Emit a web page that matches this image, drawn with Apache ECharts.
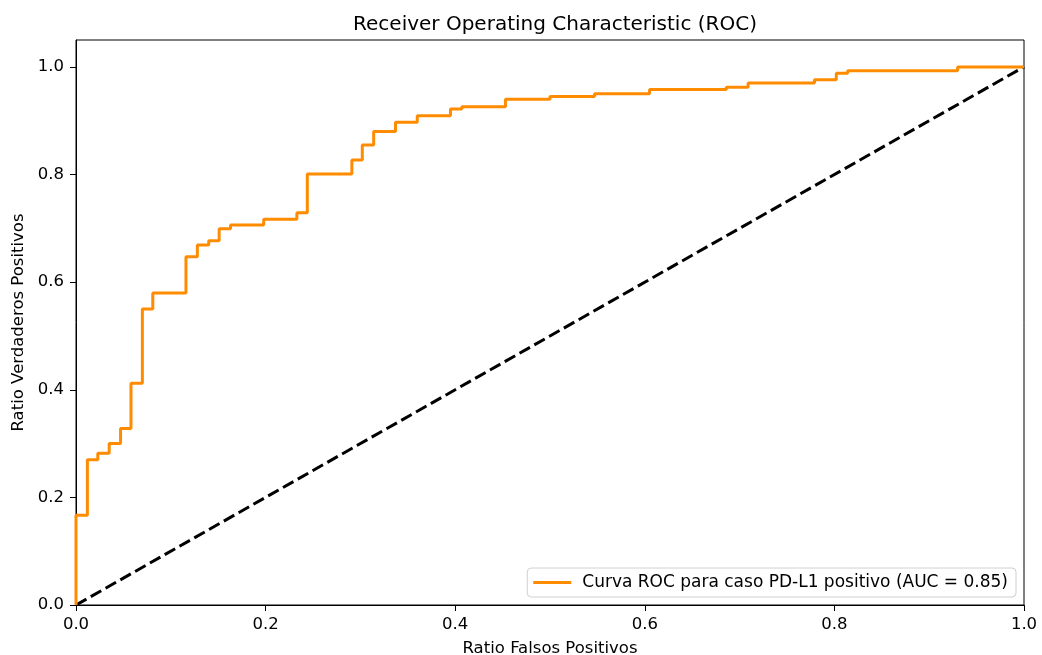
<!DOCTYPE html>
<html>
<head>
<meta charset="utf-8">
<script src="https://cdn.jsdelivr.net/npm/echarts@6/dist/echarts.min.js"></script>
<style>
  html, body { margin: 0; padding: 0; background: #fff; }
  #chart { width: 1042px; height: 655px; }
</style>
</head>
<body>
<div id="chart"></div>
<script>
// ROC curve corner points (false positive rate, true positive rate)
const fpr = [0, 0, 0.012, 0.012, 0.023, 0.023, 0.035, 0.035, 0.047, 0.047,
  0.058, 0.058, 0.070, 0.070, 0.081, 0.081, 0.116, 0.116, 0.128, 0.128,
  0.140, 0.140, 0.151, 0.151, 0.163, 0.163, 0.198, 0.198, 0.233, 0.233,
  0.244, 0.244, 0.291, 0.291, 0.302, 0.302, 0.314, 0.314, 0.337, 0.337,
  0.360, 0.360, 0.395, 0.395, 0.407, 0.407, 0.453, 0.453, 0.500, 0.500,
  0.547, 0.547, 0.605, 0.605, 0.686, 0.686, 0.709, 0.709, 0.779, 0.779,
  0.802, 0.802, 0.814, 0.814, 0.930, 0.930, 1.0];
const tpr = [0, 0.167, 0.167, 0.270, 0.270, 0.282, 0.282, 0.300, 0.300, 0.328,
  0.328, 0.412, 0.412, 0.550, 0.550, 0.580, 0.580, 0.647, 0.647, 0.669,
  0.669, 0.677, 0.677, 0.699, 0.699, 0.706, 0.706, 0.717, 0.717, 0.729,
  0.729, 0.801, 0.801, 0.827, 0.827, 0.855, 0.855, 0.880, 0.880, 0.897,
  0.897, 0.909, 0.909, 0.922, 0.922, 0.926, 0.926, 0.940, 0.940, 0.945,
  0.945, 0.950, 0.950, 0.958, 0.958, 0.962, 0.962, 0.970, 0.970, 0.976,
  0.976, 0.988, 0.988, 0.993, 0.993, 1.0, 1.0];

// Chance diagonal
const chanceX = [0, 1];
const chanceY = [0, 1];

const xTicks = [0, 0.2, 0.4, 0.6, 0.8, 1.0];
const yTicks = [0, 0.2, 0.4, 0.6, 0.8, 1.0];

const titleText = 'Receiver Operating Characteristic (ROC)';
const xName = 'Ratio Falsos Positivos';
const yName = 'Ratio Verdaderos Positivos';
const rocName = 'Curva ROC para caso PD-L1 positivo (AUC = 0.85)';

const FONT = 'DejaVu Sans';
const LABEL_SIZE = 16.5;

const rocData = fpr.map((x, i) => [x, tpr[i]]);
const chanceData = chanceX.map((x, i) => [x, chanceY[i]]);

const chart = echarts.init(document.getElementById('chart'), null, { renderer: 'canvas' });

function tickFormatter(ticks) {
  return v => (ticks.some(t => Math.abs(t - v) < 1e-9) ? v.toFixed(1) : '');
}

const axisCommon = {
  type: 'value',
  interval: 0.2,
  axisLine: { show: true, onZero: false, lineStyle: { color: '#000', width: 1 } },
  axisTick: { show: true, inside: false, length: 6, lineStyle: { color: '#000', width: 1 } },
  splitLine: { show: false },
  nameLocation: 'middle',
  nameTextStyle: { color: '#000', fontFamily: FONT, fontSize: LABEL_SIZE }
};

chart.setOption({
  animation: false,
  backgroundColor: '#fff',
  title: {
    text: titleText,
    left: 550,
    top: 10,
    textAlign: 'center',
    textStyle: { color: '#000', fontFamily: FONT, fontSize: 20, fontWeight: 'normal' }
  },
  grid: {
    left: 76, right: 18, top: 40, bottom: 50,
    outerBoundsMode: 'none',
    containLabel: false,
    show: true, borderColor: '#000', borderWidth: 1, backgroundColor: 'transparent'
  },
  legend: {
    right: 26,
    bottom: 58,
    orient: 'vertical',
    icon: 'rect',
    itemWidth: 38,
    itemHeight: 3,
    padding: [6, 8, 6, 6],
    borderColor: '#d0d0d0',
    borderWidth: 1,
    borderRadius: 4,
    backgroundColor: 'rgba(255,255,255,0.8)',
    textStyle: { color: '#000', fontFamily: FONT, fontSize: 17, padding: [0, 0, 0, 6] },
    data: [rocName]
  },
  xAxis: Object.assign({}, axisCommon, {
    min: 0, max: 1,
    name: xName,
    nameGap: 35,
    axisLabel: {
      color: '#000', fontFamily: FONT, fontSize: LABEL_SIZE, margin: 11,
      formatter: tickFormatter(xTicks)
    }
  }),
  yAxis: Object.assign({}, axisCommon, {
    min: 0, max: 1.05,
    name: yName,
    nameGap: 41,
    axisLabel: {
      color: '#000', fontFamily: FONT, fontSize: LABEL_SIZE, margin: 12,
      showMaxLabel: false,
      formatter: tickFormatter(yTicks)
    }
  }),
  series: [
    {
      name: rocName,
      type: 'line',
      data: rocData,
      symbol: 'none',
      lineStyle: { color: '#ff8c00', width: 3 },
      itemStyle: { color: '#ff8c00' },
      z: 3
    },
    {
      name: 'chance',
      type: 'line',
      data: chanceData,
      symbol: 'none',
      lineStyle: { color: '#000', width: 3, type: [12, 5] },
      itemStyle: { color: '#000' },
      z: 2
    }
  ]
});
</script>
</body>
</html>
